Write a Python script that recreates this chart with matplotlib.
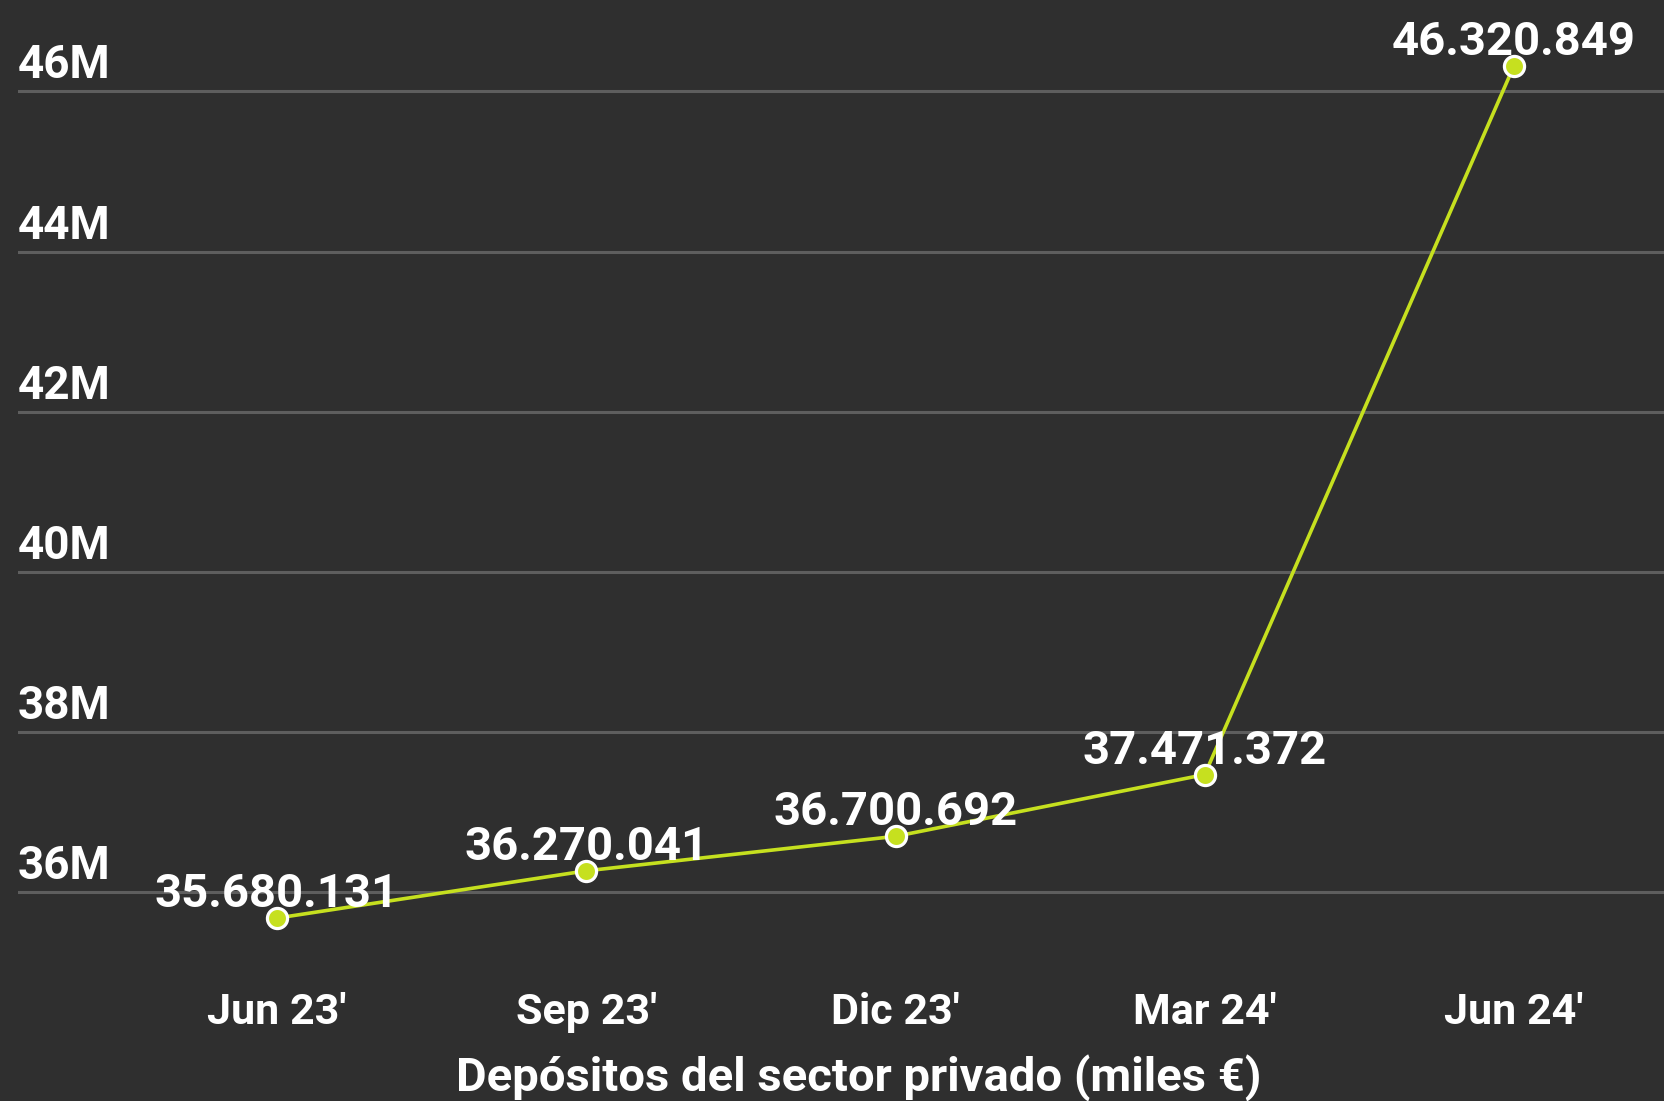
import matplotlib.pyplot as plt
from matplotlib.transforms import blended_transform_factory, offset_copy

# trimestres y depósitos (miles de euros)
trimestres = ["Jun 23'", "Sep 23'", "Dic 23'", "Mar 24'", "Jun 24'"]
depositos = [35680131, 36270041, 36700692, 37471372, 46320849]
ticks_y = [36e6, 38e6, 40e6, 42e6, 44e6, 46e6]
ticks_y_txt = ["36M", "38M", "40M", "42M", "44M", "46M"]

fondo = "#2f2f2f"
verde = "#c6e01f"
rejilla = "#5e5e5e"

plt.rcParams['font.family'] = ['Roboto', 'DejaVu Sans']
plt.rcParams['font.weight'] = 'bold'

fig = plt.figure(figsize=(16.64, 11.01), dpi=100, facecolor=fondo)
W, H = 1664, 1101
# ejes desde x=18 hasta el borde derecho, de y=0 a y=960
ax = fig.add_axes([18 / W, (H - 960) / H, 1 - 18 / W, 960 / H])
ax.set_facecolor(fondo)

x = list(range(len(trimestres)))
ax.plot(x, depositos, color=verde, lw=2.6, marker='o', ms=14.5,
        markerfacecolor=verde, markeredgecolor='white', markeredgewidth=2.3,
        zorder=3, clip_on=False)

for xi, v in zip(x, depositos):
    etiqueta = f"{v:,}".replace(",", ".")
    t = offset_copy(ax.transData, fig=fig, x=0, y=11, units='dots')
    ax.text(xi, v, etiqueta, transform=t, ha='center', va='baseline',
            color='white', fontsize=34, fontweight='bold', zorder=4)

ax.set_xlim(-0.8375, 4.485)
ax.set_ylim(35.157e6, 47.14e6)

ax.set_yticks(ticks_y)
ax.set_yticklabels([])
ax.grid(axis='y', color=rejilla, lw=2.2)
ax.set_axisbelow(True)
ax.tick_params(length=0)

# etiquetas del eje y encima de cada línea
bt = blended_transform_factory(ax.transAxes, ax.transData)
for v, txt in zip(ticks_y, ticks_y_txt):
    ax.text(0, v, txt, transform=offset_copy(bt, fig=fig, x=0, y=13, units='dots'),
            ha='left', va='baseline', color='white', fontsize=33, fontweight='bold')

ax.set_xticks(x)
ax.set_xticklabels(trimestres, color='white', fontsize=31, fontweight='bold')
ax.tick_params(axis='x', pad=23)

for s in ax.spines.values():
    s.set_visible(False)

fig.text(859 / W, 10 / H, "Depósitos del sector privado (miles €)", ha='center',
         va='baseline', color='white', fontsize=34, fontweight='bold')

fig.savefig("out.png", dpi=100, facecolor=fondo)
